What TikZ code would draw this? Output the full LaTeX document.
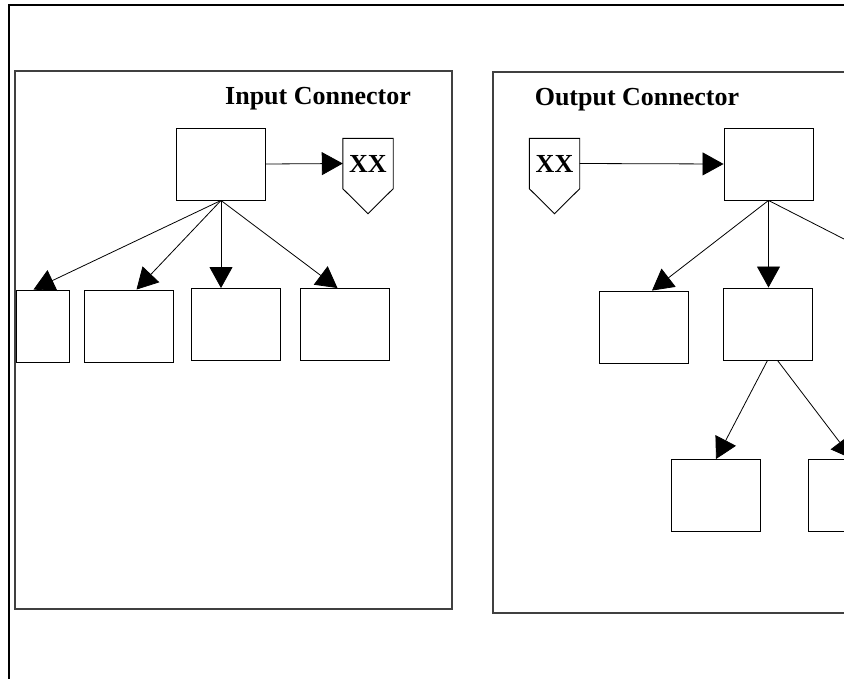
\documentclass[tikz,border=0pt]{standalone}
\usepackage{fontspec}
\setmainfont{Liberation Serif}
\usetikzlibrary{arrows.meta, positioning}
\colorlet{panelgray}{black!75}

\begin{document}
\begin{tikzpicture}[x=1pt, y=-1pt, >={Triangle[length=21pt, width=23pt]},
    blk/.style={draw, line width=0.9pt, minimum width=89pt, minimum height=72pt, inner sep=0pt},
    tag/.style={minimum width=50pt, minimum height=50pt, inner sep=0pt, font=\fontsize{26}{30}\selectfont\bfseries},
    title/.style={anchor=base, font=\fontsize{26}{30}\selectfont\bfseries},
    link/.style={->, line width=0.8pt}]
    \useasboundingbox (0,0) rectangle (844,678);
    \clip (0,0) rectangle (844,678);

    % page frame and the two panels
    \draw[line width=2pt] (9,5) rectangle (900,720);
    \draw[draw=panelgray, line width=1.2pt] (15,71) rectangle (452,609);
    \draw[draw=panelgray, line width=1.2pt] (493,72) rectangle (900,613);

    % input side
    \node[title] (intitle) at (318,104) {Input Connector};
    \node[blk] (inroot) at (221,164) {};
    \node[tag] (inxx) at (368,163.5) {XX};
    \draw[line width=0.9pt] (inxx.north west) -- (inxx.north east) -- (inxx.south east)
        -- ([yshift=-25pt]inxx.south) -- (inxx.south west) -- cycle;
    \node[blk, minimum width=53pt] (ina) at (42.5,326) {};
    \node[blk] (inb) at (128.5,326) {};
    \node[blk] (inc) at (235.5,324.5) {};
    \node[blk] (ind) at (344.5,324.5) {};

    \draw[link] (inroot.east) -- (inxx.west);
    \draw[link] (inroot.south) -- ([xshift=-9pt]ina.north);
    \draw[link] (inroot.south) -- ([xshift=8pt]inb.north);
    \draw[link] (inroot.south) -- (inroot.south |- inc.north);
    \draw[link] (inroot.south) -- ([xshift=-7pt]ind.north);

    % output side
    \node[title] (outtitle) at (637,105) {Output Connector};
    \node[tag] (outxx) at (554.5,163.5) {XX};
    \draw[line width=0.9pt] (outxx.north west) -- (outxx.north east) -- (outxx.south east)
        -- ([yshift=-25pt]outxx.south) -- (outxx.south west) -- cycle;
    \node[blk] (outroot) at (768.5,164) {};
    \node[blk] (outa) at (644,327) {};
    \node[blk] (outb) at (767.5,324) {};
    \node[blk] (outc) at (939,324) {};
    \node[blk] (outd) at (716,495.5) {};
    \node[blk] (oute) at (852.5,495.5) {};

    \draw[link] (outxx.east) -- (outroot.west);
    \draw[link] (outroot.south) -- ([xshift=8pt]outa.north);
    \draw[link] (outroot.south) -- (outroot.south |- outb.north);
    \draw[link] (outroot.south) -- (outc.north);
    \draw[link] (outb.south) -- (outd.north);
    \draw[link] ([xshift=10pt]outb.south) -- (oute.north);
\end{tikzpicture}
\end{document}
